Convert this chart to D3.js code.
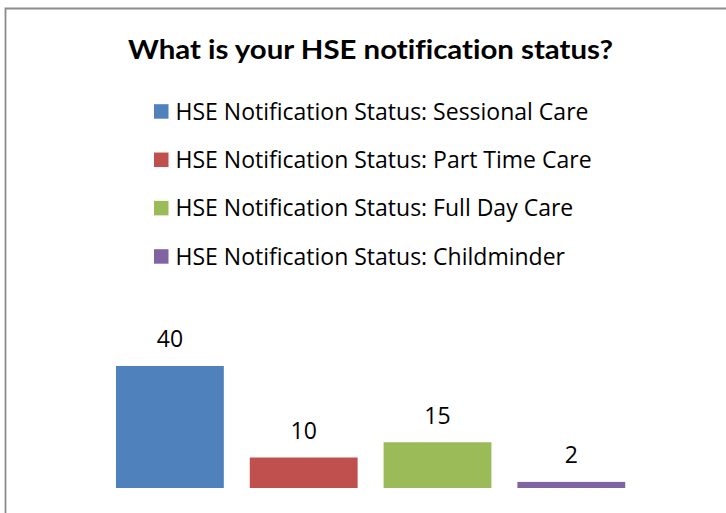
<!DOCTYPE html>
<html>
<head>
<meta charset="utf-8">
<script src="https://cdn.jsdelivr.net/npm/d3@7"></script>
<style>
  html, body { margin: 0; padding: 0; background: #fff; }
  svg { display: block; }
  text { font-variant-ligatures: none; font-feature-settings: "liga" 0, "clig" 0; }
</style>
</head>
<body>
<div id="chart"></div>
<script>
const title = "What is your HSE notification status?";
const categories = [
    "HSE Notification Status: Sessional Care",
    "HSE Notification Status: Part Time Care",
    "HSE Notification Status: Full Day Care",
    "HSE Notification Status: Childminder"
];
const values = [40, 10, 15, 2];
const colors = ["#4f81bd", "#c0504d", "#9bbb59", "#8064a2"];

const W = 726, H = 513;
const TITLE_FONT = "Lato, 'Open Sans', sans-serif";
const FONT = "'Open Sans', Lato, sans-serif";

const svg = d3.select("#chart")
    .append("svg")
    .attr("width", W)
    .attr("height", H);

svg.append("rect")
    .attr("width", W).attr("height", H)
    .attr("fill", "#fff");

// frame: only the top and left edges show, the rest is cropped off
svg.append("path")
    .attr("d", "M5.5," + H + "V8.5H" + W)
    .attr("fill", "none")
    .attr("stroke", "#8c8c8c")
    .attr("stroke-width", 1.8);

// title
svg.append("text")
    .attr("x", 370.5)
    .attr("y", 58.5)
    .attr("text-anchor", "middle")
    .attr("font-family", TITLE_FONT)
    .attr("font-weight", "bold")
    .attr("font-size", 27)
    .attr("fill", "#000")
    .attr("textLength", 485)
    .attr("lengthAdjust", "spacingAndGlyphs")
    .text(title);

// legend
const legY = d3.scalePoint().domain(categories).range([111.7, 256.7]);
const legend = svg.append("g").selectAll("g")
    .data(categories)
    .enter()
    .append("g")
    .attr("transform", d => "translate(0," + legY(d) + ")");

legend.append("rect")
    .attr("x", 154)
    .attr("y", -7.5)
    .attr("width", 14.5)
    .attr("height", 14.5)
    .attr("fill", (d, i) => colors[i]);

legend.append("text")
    .attr("x", 175.5)
    .attr("y", 7.8)
    .attr("font-family", FONT)
    .attr("font-size", 23)
    .attr("fill", "#000")
    .text(d => d);

// bars
const x = d3.scaleBand()
    .domain(categories)
    .range([102.6, 638.6])
    .paddingInner(0.194)
    .paddingOuter(0.1);

const y = d3.scaleLinear()
    .domain([0, 40])
    .range([488, 366]);

const bars = svg.append("g").selectAll("g")
    .data(values)
    .enter()
    .append("g");

bars.append("rect")
    .attr("x", (d, i) => x(categories[i]))
    .attr("y", d => y(d))
    .attr("width", x.bandwidth())
    .attr("height", d => y(0) - y(d))
    .attr("fill", (d, i) => colors[i]);

bars.append("text")
    .attr("x", (d, i) => x(categories[i]) + x.bandwidth() / 2)
    .attr("y", d => y(d) - 18.7)
    .attr("text-anchor", "middle")
    .attr("font-family", FONT)
    .attr("font-size", 23)
    .attr("fill", "#000")
    .text(d => d);
</script>
</body>
</html>
